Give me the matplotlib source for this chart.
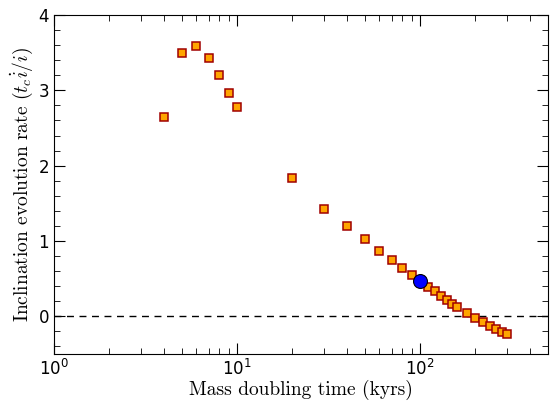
import numpy as np
import matplotlib
matplotlib.use("Agg")
import matplotlib.pyplot as plt
from matplotlib.ticker import MultipleLocator

plt.rcParams['mathtext.fontset'] = 'cm'
plt.rcParams['axes.formatter.use_mathtext'] = True

# mass doubling time (kyrs) and inclination evolution rate
t_double = [4, 5, 6, 7, 8, 9, 10, 20, 30, 40, 50, 60, 70, 80, 90, 100,
            110, 120, 130, 140, 150, 160, 180, 200, 220, 240, 260, 280, 300]
rate = [2.64, 3.50, 3.59, 3.43, 3.20, 2.97, 2.78, 1.83, 1.43, 1.20, 1.02,
        0.87, 0.75, 0.64, 0.55, 0.47, 0.39, 0.33, 0.27, 0.22, 0.17, 0.12,
        0.05, -0.02, -0.08, -0.13, -0.17, -0.21, -0.24]
t_mark = [100]
rate_mark = [0.47]

fig = plt.figure(figsize=(5.55, 4.03), dpi=100)
ax = fig.add_axes([54/555, 1-354/403, (548-54)/555, (354-15)/403])

ax.axhline(0, color='k', ls='--', lw=1, dashes=(5, 4))
ax.plot(t_double, rate, ls='none', marker='s', ms=5.2, mfc='#ffa500',
        mec='#a00000', mew=1.1)
ax.plot(t_mark, rate_mark, ls='none', marker='o', ms=10, mfc='#0000ff',
        mec='k', mew=0.8)

ax.set_xscale('log')
ax.set_xlim(1, 500)
ax.set_ylim(-0.5, 4)
ax.yaxis.set_major_locator(MultipleLocator(1))
ax.yaxis.set_minor_locator(MultipleLocator(0.2))
ax.tick_params(which='both', direction='in', top=True, right=True, labelsize=12)
ax.tick_params(which='major', length=8)
ax.tick_params(which='minor', length=4)

ax.set_xlabel('Mass doubling time (kyrs)', family='cmr10', fontsize=14, labelpad=1)
ax.set_ylabel(r'Inclination evolution rate $(t_c\dot{i}/i)$', family='cmr10',
              fontsize=14, labelpad=2)

fig.savefig('out.png', dpi=100)
